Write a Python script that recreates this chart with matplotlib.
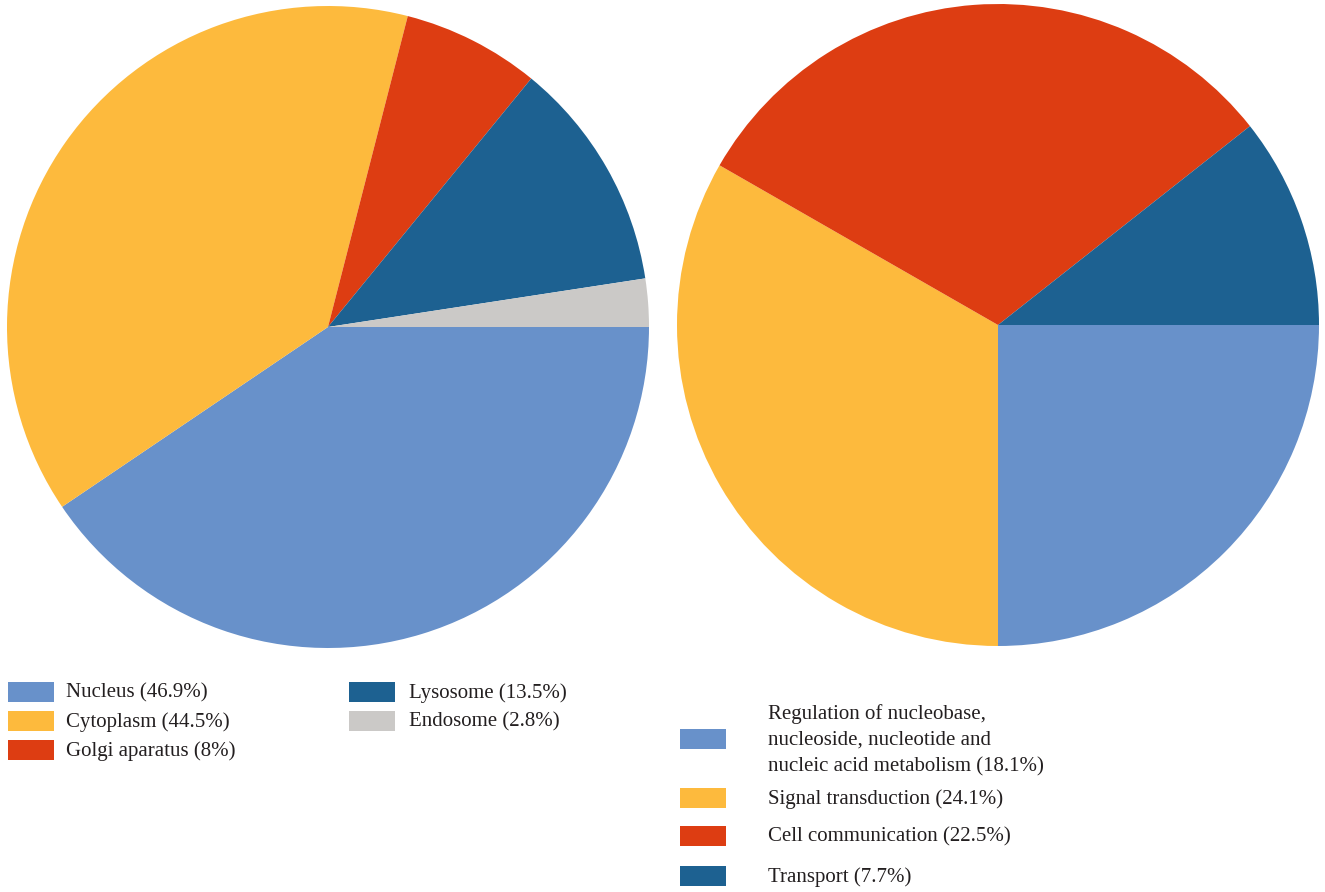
import matplotlib
matplotlib.use("Agg")
import matplotlib.pyplot as plt
from matplotlib.patches import Rectangle

plt.rcParams["font.family"] = ["Liberation Serif", "DejaVu Serif"]

# cellular localisation
loc_labels = ["Nucleus", "Cytoplasm", "Golgi aparatus", "Lysosome", "Endosome"]
loc_values = [46.9, 44.5, 8, 13.5, 2.8]
loc_colors = ["#6891CA", "#FDBA3D", "#DD3D12", "#1D6191", "#CBC9C7"]

# biological process
proc_labels = [
    "Regulation of nucleobase,\nnucleoside, nucleotide and\nnucleic acid metabolism",
    "Signal transduction",
    "Cell communication",
    "Transport",
]
proc_values = [18.1, 24.1, 22.5, 7.7]
proc_colors = ["#6891CA", "#FDBA3D", "#DD3D12", "#1D6191"]

W, H = 1325, 892
fig = plt.figure(figsize=(W / 100, H / 100), dpi=100)


def px_axes(cx, cy, r):
    # square axes placed by pixel centre / radius
    return fig.add_axes([(cx - r) / W, (H - cy - r) / H, 2 * r / W, 2 * r / H])


def fmt(v):
    return f"{v:g}%"


for (cx, cy), vals, cols in [((328, 327), loc_values, loc_colors),
                             ((998, 325), proc_values, proc_colors)]:
    ax = px_axes(cx, cy, 321)
    ax.pie(vals, colors=cols, startangle=0, counterclock=False,
           radius=1, wedgeprops=dict(linewidth=0))
    ax.set_xlim(-1, 1)
    ax.set_ylim(-1, 1)
    ax.set_aspect("equal")
    ax.axis("off")


def legend_box(x, y, color):
    fig.patches.append(Rectangle((x / W, (H - y - 10) / H), 46 / W, 20 / H,
                                 transform=fig.transFigure, color=color, lw=0))


TXT = dict(fontsize=15, va="center", ha="left", color="#231F20")

# left legend, two columns
left_pos = [(8, 692, 66), (8, 721, 66), (8, 750, 66), (349, 692, 409), (349, 721, 409)]
for (px, py, tx), lab, val, col in zip(left_pos, loc_labels, loc_values, loc_colors):
    legend_box(px, py, col)
    fig.text(tx / W, (H - py - 1) / H, f"{lab} ({fmt(val)})", **TXT)

# right legend
right_y = [739, 798, 836, 876]
for py, lab, val, col in zip(right_y, proc_labels, proc_values, proc_colors):
    legend_box(680, py, col)
    fig.text(768 / W, (H - py - 1) / H, f"{lab} ({fmt(val)})", linespacing=1.5, **TXT)

fig.savefig("out.png", dpi=100)
